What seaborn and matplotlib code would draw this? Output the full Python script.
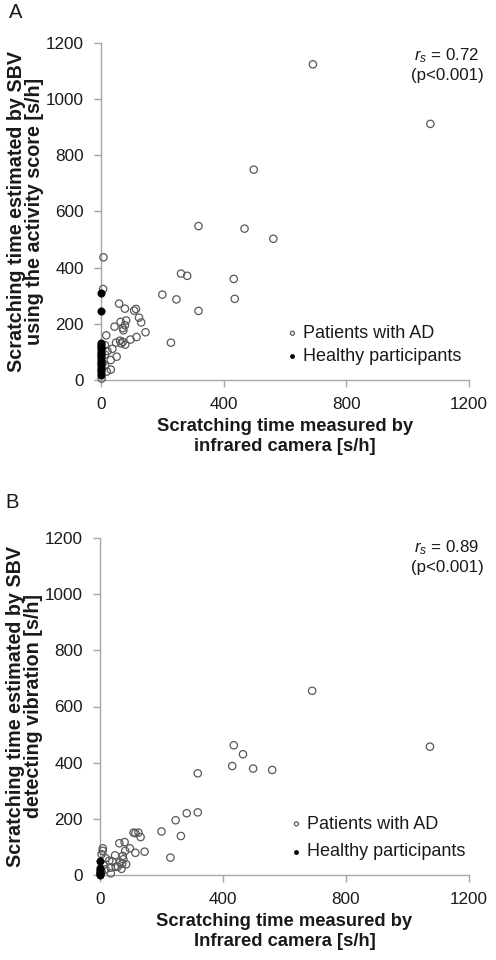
import seaborn as sns
import matplotlib.pyplot as plt
import numpy as np
import pandas as pd

# Panel A: activity score vs infrared camera
ad_x_a = [691, 1074, 498, 318, 468, 562, 8, 261, 281, 433, 200, 246, 436, 318, 7, 228,
          59, 78, 108, 114, 124, 131, 145, 116, 96, 82, 64, 78, 73, 71, 44, 17,
          62, 71, 79, 49, 37, 21, 51, 32, 32, 13, 13, 13, 19, 2, 5, 66]
ad_y_a = [1124, 912, 749, 548, 539, 503, 437, 379, 371, 360, 304, 287, 289, 246, 324, 133,
          272, 254, 247, 253, 222, 205, 170, 153, 144, 212, 207, 195, 177, 185, 190, 159,
          140, 136, 126, 133, 111, 103, 83, 71, 37, 124, 52, 90, 30, 5, 60, 130]
hp_y_a = [309, 247, 133, 126, 117, 109, 101, 93, 85, 77, 68, 61, 52, 44, 36, 27, 19]

# Panel B: vibration vs infrared camera
ad_x_b = [690, 1073, 435, 465, 430, 498, 560, 318, 318, 282, 246, 200, 263, 229,
          109, 115, 125, 132, 145, 115, 97, 80, 63, 82, 74, 76, 49, 9, 9, 5,
          18, 30, 65, 72, 85, 35, 51, 18, 35, 11, 5, 40, 58, 70]
ad_y_b = [656, 457, 462, 430, 388, 379, 374, 362, 223, 220, 195, 155, 139, 62,
          151, 149, 151, 135, 83, 79, 95, 117, 113, 86, 68, 56, 70, 95, 86, 74,
          60, 51, 45, 40, 38, 26, 29, 20, 6, 36, 12, 48, 30, 22]
hp_y_b = [50, 24, 18, 12, 7, 3, 1]

ticks = [0, 400, 800, 1200]
yticks = [0, 200, 400, 600, 800, 1000, 1200]

sns.set_style("ticks")
plt.rcParams['font.family'] = ['Liberation Sans', 'DejaVu Sans']
plt.rcParams['mathtext.fontset'] = 'custom'
plt.rcParams['mathtext.it'] = 'Liberation Sans:italic'
plt.rcParams['mathtext.rm'] = 'Liberation Sans'

W, H = 496, 960
fig = plt.figure(figsize=(W / 100, H / 100), dpi=100)


def px_axes(l, t, r, b):
    return fig.add_axes([l / W, 1 - b / H, (r - l) / W, (b - t) / H])


panels = [
    dict(box=(101, 43, 469, 380), letter="A", lx=(16, 12),
         ax_x=ad_x_a, ad_y=ad_y_a, hp_y=hp_y_a, rs="0.72", rs_top=46,
         leg=(287, 345), legsp=0.33,
         ylabel="Scratching time estimated by SBV\nusing the activity score [s/h]",
         xlabel="Scratching time measured by\ninfrared camera [s/h]"),
    dict(box=(100, 538, 469, 875), letter="B", lx=(12, 502),
         ax_x=ad_x_b, ad_y=ad_y_b, hp_y=hp_y_b, rs="0.89", rs_top=538,
         leg=(291, 838), legsp=0.6,
         ylabel="Scratching time estimated by SBV\ndetecting vibration [s/h]",
         xlabel="Scratching time measured by\nInfrared camera [s/h]"),
]

grey = "#a6a6a6"
for p in panels:
    ax = px_axes(*p["box"])
    ad = pd.DataFrame({"x": p["ax_x"], "y": p["ad_y"]})
    hp = pd.DataFrame({"x": [0] * len(p["hp_y"]), "y": p["hp_y"]})
    sns.scatterplot(data=ad, x="x", y="y", ax=ax, marker="o", s=28,
                    fc="none", ec="#595959", linewidth=0.9, clip_on=False,
                    label="Patients with AD", zorder=3)
    sns.scatterplot(data=hp, x="x", y="y", ax=ax, marker="o", s=28,
                    color="black", ec="black", linewidth=0.5, clip_on=False,
                    label="Healthy participants", zorder=4)
    ax.set_xlim(0, 1200)
    ax.set_ylim(0, 1200)
    ax.set_xticks(ticks)
    ax.set_yticks(yticks)
    ax.tick_params(colors=grey, labelcolor="#1a1a1a", labelsize=12.3,
                   length=5, width=1, direction="out", pad=7.5)
    for s in ["top", "right"]:
        ax.spines[s].set_visible(False)
    for s in ["left", "bottom"]:
        ax.spines[s].set_color(grey)
        ax.spines[s].set_linewidth(1)
    ax.set_xlabel(p["xlabel"], fontsize=13.2, fontweight="bold", labelpad=4,
                  linespacing=1.2, color="#1a1a1a")
    ax.set_ylabel(p["ylabel"], fontsize=14.2, fontweight="bold", labelpad=1,
                  linespacing=0.98, color="#1a1a1a")
    fig.text(447 / W, 1 - p["rs_top"] / H,
             r"$\it{r}_{\it{s}}$ = " + p["rs"] + "\n(p<0.001)",
             ha="center", va="top", fontsize=12.2, linespacing=1.25,
             color="#1a1a1a")
    ax.legend(loc="center left", bbox_to_anchor=(p["leg"][0] / W, 1 - p["leg"][1] / H),
              bbox_transform=fig.transFigure, frameon=False,
              fontsize=13, markerscale=0.55, handlelength=0.6,
              handletextpad=0.3, labelspacing=p["legsp"], borderpad=0,
              borderaxespad=0, labelcolor="#1a1a1a")
    fig.text(p["lx"][0] / W, 1 - p["lx"][1] / H, p["letter"], fontsize=14.5,
             ha="center", va="center", color="#1a1a1a")

fig.savefig("out.png", dpi=100)
